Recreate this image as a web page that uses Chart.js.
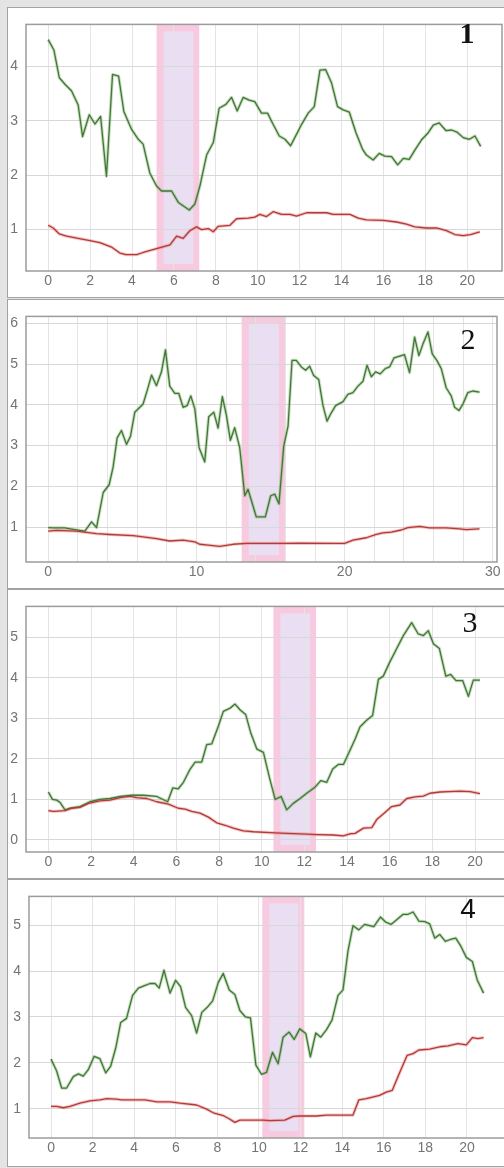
<!DOCTYPE html>
<html>
<head>
<meta charset="utf-8">
<script src="https://cdn.jsdelivr.net/npm/chart.js@4.4.1/dist/chart.umd.min.js"></script>
<style>
  html, body { margin:0; padding:0; }
  body { width:504px; height:1168px; overflow:hidden; background:#e4e4e4; position:relative; font-family:"Liberation Sans", Arial, sans-serif; }
  .card { position:absolute; left:7px; width:520px; background:#ffffff; border:1.5px solid #a2a2a2; box-sizing:border-box; }
  canvas { position:absolute; left:0; }
  .num { position:absolute; width:40px; text-align:center; line-height:1; color:#111; }
  .serif { font-family:"Liberation Serif", "DejaVu Serif", serif; font-size:30px; }
  .sans { font-family:"Liberation Sans", "DejaVu Sans", sans-serif; font-size:28px; }
</style>
</head>
<body>
<div class="card" style="top:7px;height:291px"></div>
<div class="card" style="top:299px;height:290px"></div>
<div class="card" style="top:589px;height:290px"></div>
<div class="card" style="top:879px;height:288px"></div>
<canvas id="c1"></canvas>
<canvas id="c2"></canvas>
<canvas id="c3"></canvas>
<canvas id="c4"></canvas>
<div class="num serif" style="left:447px;top:18px;font-weight:bold">1</div>
<div class="num serif" style="left:448px;top:324px">2</div>
<div class="num serif" style="left:450px;top:607px">3</div>
<div class="num sans" style="left:448px;top:895px">4</div>
<script>
// ---------- Panel 1 ----------
const p1GreenX = [0,0.27,0.53,0.80,1.11,1.43,1.64,1.96,2.23,2.50,2.78,3.07,3.36,3.61,3.98,4.30,4.53,4.85,5.17,5.41,5.89,6.21,6.73,7.0,7.24,7.56,7.88,8.16,8.48,8.75,9.02,9.31,9.59,9.86,10.18,10.47,10.74,11.03,11.30,11.57,11.85,12.09,12.41,12.70,12.97,13.24,13.52,13.81,14.08,14.37,14.69,15.0,15.19,15.51,15.80,16.07,16.39,16.68,16.95,17.23,17.50,17.82,18.14,18.38,18.66,18.98,19.25,19.52,19.81,20.10,20.37,20.64];
const p1Green  = [4.49,4.30,3.79,3.67,3.55,3.29,2.71,3.11,2.94,3.08,1.98,3.85,3.82,3.17,2.84,2.66,2.57,2.04,1.80,1.71,1.71,1.50,1.36,1.47,1.80,2.37,2.60,3.23,3.30,3.43,3.18,3.43,3.38,3.35,3.14,3.14,2.93,2.72,2.66,2.54,2.75,2.93,3.14,3.26,3.93,3.94,3.70,3.26,3.20,3.16,2.78,2.48,2.37,2.28,2.40,2.35,2.34,2.19,2.31,2.29,2.46,2.65,2.78,2.92,2.96,2.82,2.83,2.79,2.69,2.66,2.72,2.53];
const p1RedX = [0,0.24,0.53,0.88,1.43,1.99,2.47,3.02,3.42,3.71,4.22,4.53,5.17,5.81,6.13,6.44,6.76,7.08,7.32,7.64,7.88,8.11,8.67,8.99,9.55,9.86,10.10,10.42,10.74,11.14,11.54,11.85,12.33,12.73,13.29,13.60,14.40,14.80,15.19,15.99,16.63,17.10,17.50,18.06,18.54,19.01,19.41,19.81,20.16,20.60];
const p1Red  = [1.08,1.03,0.92,0.88,0.84,0.80,0.76,0.68,0.57,0.54,0.54,0.58,0.65,0.72,0.88,0.84,0.98,1.05,1.00,1.02,0.96,1.06,1.08,1.20,1.21,1.23,1.28,1.24,1.33,1.28,1.28,1.25,1.31,1.31,1.31,1.28,1.28,1.21,1.18,1.17,1.14,1.10,1.05,1.03,1.03,0.98,0.91,0.89,0.91,0.96];
const p1Band = [5.17, 7.21];
const p1XTicks = [0,2,4,6,8,10,12,14,16,18,20];
const p1XLabels = [0,2,4,6,8,10,12,14,16,18,20];
const p1YTicks = [1,2,3,4];

// ---------- Panel 2 ----------
const p2GreenX = [0,0.34,1.12,1.80,2.47,2.92,3.26,3.71,4.11,4.38,4.65,4.94,5.28,5.55,5.84,6.18,6.40,6.70,6.97,7.30,7.64,7.91,8.20,8.54,8.81,9.10,9.37,9.62,9.89,10.18,10.56,10.83,11.17,11.46,11.75,12.02,12.29,12.58,12.92,13.26,13.48,14.04,14.65,15.01,15.28,15.57,15.89,16.18,16.45,16.74,17.08,17.37,17.64,17.91,18.25,18.54,18.81,19.06,19.39,19.89,20.22,20.56,20.90,21.24,21.51,21.80,22.09,22.40,22.74,23.03,23.33,23.66,24.04,24.38,24.72,25.01,25.28,25.62,25.91,26.22,26.52,26.85,27.19,27.42,27.71,27.98,28.31,28.65,29.10];
const p2Green  = [0.99,0.98,0.98,0.94,0.90,1.13,0.99,1.85,2.04,2.48,3.19,3.37,3.03,3.23,3.82,3.94,4.02,4.38,4.73,4.47,4.81,5.35,4.46,4.28,4.28,3.94,3.98,4.22,3.90,2.95,2.60,3.71,3.82,3.43,4.20,3.75,3.13,3.44,2.95,1.77,1.93,1.25,1.25,1.77,1.81,1.57,2.99,3.47,5.09,5.09,4.93,4.85,4.95,4.72,4.62,3.98,3.60,3.78,3.98,4.08,4.26,4.30,4.46,4.58,4.97,4.69,4.81,4.76,4.89,4.93,5.15,5.19,5.23,4.79,5.66,5.21,5.49,5.79,5.25,5.09,4.89,4.42,4.22,3.94,3.86,4.02,4.30,4.34,4.31];
const p2RedX = [0,0.56,1.91,3.26,4.16,5.73,6.40,7.30,8.20,9.10,9.89,10.22,10.79,11.57,12.47,13.37,15.84,16.97,19.21,20.0,20.56,21.46,22.13,22.58,23.15,23.82,24.27,25.06,25.73,26.85,27.75,28.20,29.10];
const p2Red  = [0.90,0.92,0.90,0.84,0.82,0.79,0.76,0.72,0.66,0.68,0.64,0.58,0.56,0.53,0.58,0.60,0.60,0.61,0.60,0.60,0.68,0.74,0.82,0.86,0.88,0.93,0.99,1.02,0.98,0.98,0.96,0.94,0.96];
const p2Band = [13.05, 15.97];
const p2XTicks = [0,2,4,6,8,10,12,14,16,18,20,22,24,26,28,30];
const p2XLabels = [0,10,20,30];
const p2YTicks = [1,2,3,4,5,6];

// ---------- Panel 3 ----------
const p3GreenX = [0,0.19,0.39,0.55,0.78,1.02,1.48,1.95,2.42,2.89,3.36,3.91,4.45,5.08,5.59,5.83,6.09,6.33,6.64,6.88,7.19,7.42,7.66,7.97,8.20,8.52,8.75,8.98,9.25,9.48,9.77,10.08,10.36,10.63,10.91,11.17,11.48,11.80,12.11,12.50,12.77,13.05,13.33,13.59,13.83,14.14,14.38,14.61,14.92,15.20,15.47,15.70,15.98,16.33,16.64,17.03,17.34,17.58,17.81,18.05,18.33,18.63,18.86,19.11,19.42,19.69,19.92,20.23];
const p3Green  = [1.18,1.00,0.98,0.92,0.74,0.78,0.82,0.94,1.00,1.02,1.07,1.10,1.10,1.07,0.94,1.28,1.26,1.42,1.74,1.92,1.92,2.35,2.37,2.81,3.17,3.25,3.35,3.21,3.09,2.65,2.24,2.16,1.54,1.00,1.07,0.74,0.90,1.02,1.15,1.30,1.46,1.42,1.75,1.86,1.86,2.21,2.49,2.79,2.95,3.07,3.96,4.04,4.36,4.72,5.04,5.36,5.08,5.04,5.16,4.84,4.72,4.04,4.08,3.93,3.93,3.54,3.94,3.94];
const p3RedX = [0,0.23,0.78,1.09,1.48,1.88,2.42,2.89,3.36,3.83,4.14,4.61,5.08,5.63,6.09,6.41,6.72,7.11,7.50,7.89,8.28,8.67,9.14,9.61,10.39,11.17,12.11,12.58,13.36,13.83,14.14,14.38,14.77,15.16,15.39,15.70,16.09,16.48,16.80,17.19,17.58,17.89,18.36,18.75,19.30,19.77,20.23];
const p3Red  = [0.72,0.70,0.72,0.78,0.80,0.90,0.96,0.98,1.04,1.07,1.04,1.02,0.94,0.88,0.78,0.76,0.70,0.66,0.56,0.42,0.36,0.29,0.22,0.20,0.18,0.16,0.14,0.13,0.12,0.10,0.15,0.16,0.29,0.30,0.50,0.64,0.82,0.86,1.02,1.06,1.08,1.15,1.18,1.19,1.20,1.19,1.14];
const p3Band = [10.55, 12.55];
const p3XTicks = [0,2,4,6,8,10,12,14,16,18,20];
const p3XLabels = [0,2,4,6,8,10,12,14,16,18,20];
const p3YTicks = [0,1,2,3,4,5];

// ---------- Panel 4 ----------
const p4GreenX = [0,0.27,0.51,0.75,1.07,1.31,1.55,1.79,2.07,2.35,2.63,2.87,3.12,3.35,3.63,3.92,4.20,4.47,4.76,5.00,5.20,5.43,5.72,5.99,6.23,6.47,6.76,7.0,7.25,7.51,7.77,8.04,8.28,8.57,8.84,9.08,9.35,9.59,9.85,10.12,10.36,10.65,10.92,11.16,11.45,11.69,11.96,12.25,12.47,12.73,12.97,13.24,13.51,13.80,14.04,14.28,14.52,14.80,15.08,15.52,15.84,16.09,16.36,16.65,16.93,17.17,17.41,17.69,17.97,18.21,18.45,18.69,18.96,19.20,19.46,19.70,19.97,20.26,20.50,20.80];
const p4Green  = [2.08,1.82,1.45,1.45,1.70,1.76,1.71,1.85,2.14,2.09,1.78,1.93,2.34,2.88,2.97,3.47,3.63,3.68,3.73,3.73,3.63,4.02,3.52,3.80,3.66,3.21,3.03,2.65,3.10,3.21,3.35,3.75,3.95,3.59,3.49,3.14,3.00,2.98,1.95,1.75,1.79,2.23,1.98,2.56,2.67,2.51,2.74,2.64,2.13,2.65,2.56,2.72,2.93,3.47,3.59,4.44,4.99,4.90,5.02,4.97,5.18,5.07,5.02,5.13,5.24,5.24,5.29,5.09,5.08,5.03,4.72,4.80,4.65,4.69,4.72,4.55,4.30,4.21,3.80,3.52];
const p4RedX = [0,0.27,0.59,0.91,1.39,1.87,2.35,2.67,3.15,3.39,4.52,5.08,5.72,6.20,7.0,7.48,7.80,8.28,8.60,8.84,9.08,9.72,10.20,10.52,11.24,11.64,11.96,12.76,13.24,14.52,14.80,15.16,15.80,16.12,16.41,16.73,17.12,17.41,17.69,18.21,18.69,19.09,19.57,19.97,20.26,20.53,20.80];
const p4Red  = [1.05,1.05,1.02,1.05,1.12,1.17,1.19,1.22,1.21,1.19,1.19,1.15,1.15,1.12,1.08,0.99,0.91,0.85,0.77,0.70,0.75,0.75,0.75,0.74,0.75,0.83,0.84,0.84,0.86,0.86,1.19,1.22,1.29,1.36,1.40,1.75,2.16,2.20,2.28,2.30,2.35,2.37,2.42,2.39,2.55,2.53,2.55];
const p4Band = [10.16, 12.18];
const p4XTicks = [0,2,4,6,8,10,12,14,16,18,20];
const p4XLabels = [0,2,4,6,8,10,12,14,16,18,20];
const p4YTicks = [1,2,3,4,5];

const GREEN = '#44753a';
const GREEN_HALO = 'rgba(125,185,105,0.45)';
const RED = '#b03c38';
const RED_HALO = 'rgba(235,125,125,0.45)';

const bandPlugin = {
  id: 'band',
  beforeDraw(chart, args, opts) {
    const {ctx, chartArea} = chart;
    const xs = chart.scales.x;
    const x0 = xs.getPixelForValue(opts.range[0]);
    const x1 = xs.getPixelForValue(opts.range[1]);
    const t = chartArea.top, b = chartArea.bottom;
    ctx.save();
    ctx.fillStyle = 'rgb(248,202,224)';
    ctx.fillRect(x0, t, x1 - x0, b - t);
    ctx.fillStyle = 'rgb(233,222,242)';
    ctx.fillRect(x0 + 7, t + 7, x1 - x0 - 13, b - t - 14);
    ctx.restore();
  },
  afterDatasetsDraw(chart) {
    const {ctx, chartArea} = chart;
    ctx.save();
    ctx.strokeStyle = '#9c9c9c';
    ctx.lineWidth = 1.5;
    ctx.strokeRect(chartArea.left, chartArea.top, chartArea.right - chartArea.left, chartArea.bottom - chartArea.top);
    ctx.restore();
  }
};

function series(xs, ys, color, width, order) {
  return { data: xs.map((x, i) => ({x, y: ys[i]})), borderColor: color, borderWidth: width,
           pointRadius: 0, tension: 0, order: order, borderJoinStyle: 'round' };
}

function makeChart(id, cfg) {
  const cv = document.getElementById(id);
  cv.width = cfg.cw; cv.height = cfg.ch;
  cv.style.top = cfg.ctop + 'px';
  cv.style.width = cfg.cw + 'px'; cv.style.height = cfg.ch + 'px';
  const padTop = cfg.plotTop - cfg.ctop;
  const xH = cfg.ch - (cfg.plotBottom - cfg.ctop);
  new Chart(cv, {
    type: 'line',
    data: {
      datasets: [
        series(cfg.gx, cfg.gy, GREEN_HALO, 3.2, 4),
        series(cfg.rx, cfg.ry, RED_HALO, 3.2, 3),
        series(cfg.gx, cfg.gy, GREEN, 1.3, 2),
        series(cfg.rx, cfg.ry, RED, 1.3, 1)
      ]
    },
    options: {
      responsive: false,
      animation: false,
      devicePixelRatio: 1,
      layout: { padding: { top: padTop, right: cfg.cw - cfg.plotRight, bottom: 0, left: 0 } },
      plugins: { legend: { display: false }, tooltip: { enabled: false }, band: { range: cfg.band } },
      scales: {
        x: {
          type: 'linear', min: cfg.xmin, max: cfg.xmax,
          afterBuildTicks: s => { s.ticks = cfg.xt.map(v => ({value: v})); },
          afterFit: s => { s.height = xH; },
          grid: { color: '#e4e4e4', lineWidth: 1, drawTicks: false },
          border: { display: false },
          ticks: { color: '#747474', font: { size: 14, family: 'Liberation Sans' }, padding: 2, autoSkip: false, maxRotation: 0,
                   callback: v => cfg.xl.includes(v) ? String(v) : '' }
        },
        y: {
          type: 'linear', min: cfg.ymin, max: cfg.ymax,
          afterBuildTicks: s => { s.ticks = cfg.yt.map(v => ({value: v})); },
          afterFit: s => { s.width = cfg.plotLeft; },
          grid: { color: '#d8d8d8', lineWidth: 1, drawTicks: false },
          border: { display: false },
          ticks: { color: '#747474', font: { size: 14, family: 'Liberation Sans' }, padding: 8, autoSkip: false,
                   callback: v => String(v) }
        }
      }
    },
    plugins: [bandPlugin]
  });
}

makeChart('c1', { cw:504, ctop:8, ch:289, plotTop:17, plotBottom:271, plotLeft:26, plotRight:502,
  xmin:-1.06, xmax:21.66, ymin:0.24, ymax:4.77, gx:p1GreenX, gy:p1Green, rx:p1RedX, ry:p1Red,
  band:p1Band, xt:p1XTicks, xl:p1XLabels, yt:p1YTicks });
makeChart('c2', { cw:504, ctop:300, ch:288, plotTop:308, plotBottom:562, plotLeft:26, plotRight:497,
  xmin:-1.5, xmax:30.28, ymin:0.145, ymax:6.17, gx:p2GreenX, gy:p2Green, rx:p2RedX, ry:p2Red,
  band:p2Band, xt:p2XTicks, xl:p2XLabels, yt:p2YTicks });
makeChart('c3', { cw:520, ctop:590, ch:288, plotTop:598, plotBottom:852, plotLeft:26, plotRight:510,
  xmin:-1.05, xmax:21.64, ymin:-0.3, ymax:5.76, gx:p3GreenX, gy:p3Green, rx:p3RedX, ry:p3Red,
  band:p3Band, xt:p3XTicks, xl:p3XLabels, yt:p3YTicks });
makeChart('c4', { cw:520, ctop:880, ch:286, plotTop:886, plotBottom:1138, plotLeft:29, plotRight:510,
  xmin:-1.06, xmax:22.07, ymin:0.36, ymax:5.63, gx:p4GreenX, gy:p4Green, rx:p4RedX, ry:p4Red,
  band:p4Band, xt:p4XTicks, xl:p4XLabels, yt:p4YTicks });
</script>
</body>
</html>
